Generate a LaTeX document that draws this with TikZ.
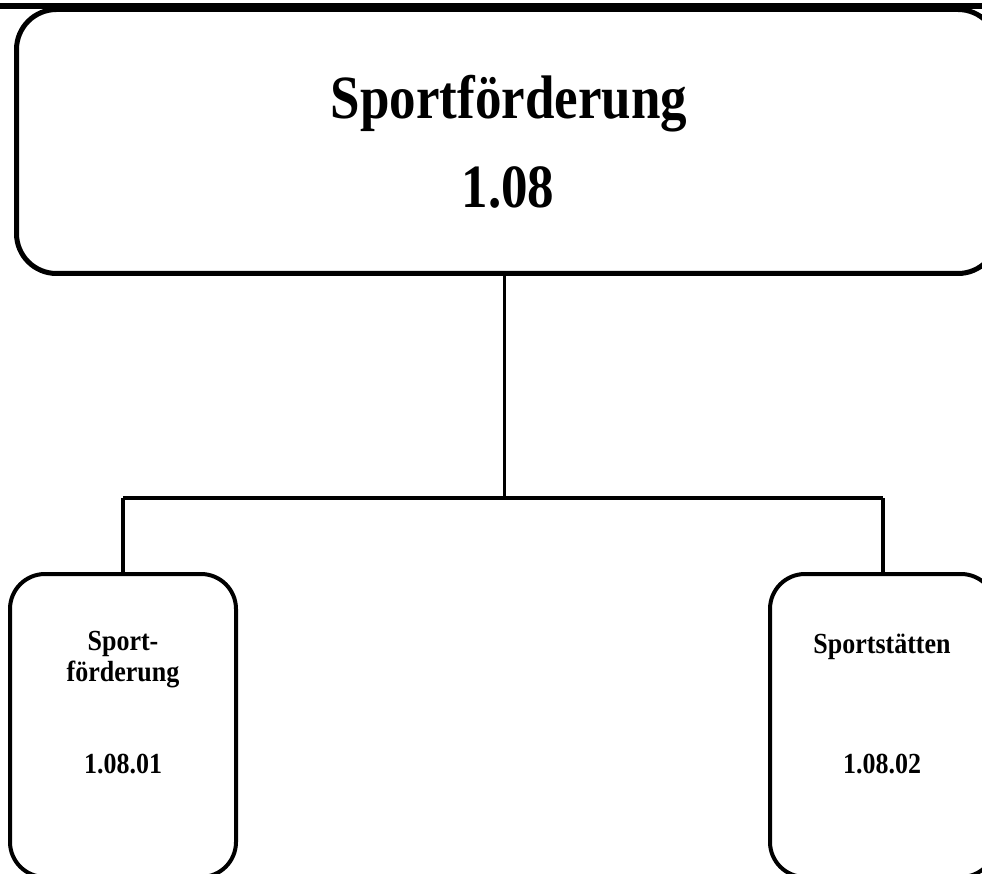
\documentclass[tikz,border=0pt]{standalone}
\usepackage{fontspec}
\setmainfont{Liberation Serif}
\begin{document}
\begin{tikzpicture}[x=1pt,y=-1pt,
  bigbox/.style={draw,line width=5pt,rounded corners=40pt,inner sep=0pt,minimum width=981.5pt,minimum height=264pt},
  subbox/.style={draw,line width=4pt,rounded corners=35pt,inner sep=0pt,minimum width=226pt,minimum height=303pt},
  conn/.style={line width=3.5pt},
  titletxt/.style={font=\fontsize{53}{60}\selectfont\bfseries,anchor=base,inner sep=0pt,yscale=1.16,transform shape},
  subtxt/.style={font=\fontsize{26}{30}\selectfont\bfseries,anchor=base,inner sep=0pt,yscale=1.12,transform shape}]
\useasboundingbox (0,0) rectangle (982,874);
\clip (0,0) rectangle (982,874);
\draw[line width=6pt] (0,6) coordinate (tl) -- (982,6) coordinate (tr);
\node[bigbox] (top) at (507.25,141.5) {};
\node[subbox] (left) at (123,725.5) {};
\node[subbox] (right) at (883,725.5) {};
\coordinate (j) at (504.5,498);
\draw[conn] (top.south -| j) -- (j);
\draw[conn] (j -| left.north) -- (j -| right.north);
\draw[conn] (j -| left.north) -- (left.north);
\draw[conn] (j -| right.north) -- (right.north);
\node[titletxt] (t1) at (509,119) {Sportförderung};
\node[titletxt] (t2) at (508,208) {1.08};
\node[subtxt] (l1) at (123,650) {Sport-};
\node[subtxt] (l2) at (123,681) {förderung};
\node[subtxt] (l3) at (123,773) {1.08.01};
\node[subtxt] (r1) at (882,653) {Sportstätten};
\node[subtxt] (r2) at (882,773) {1.08.02};
\end{tikzpicture}
\end{document}
